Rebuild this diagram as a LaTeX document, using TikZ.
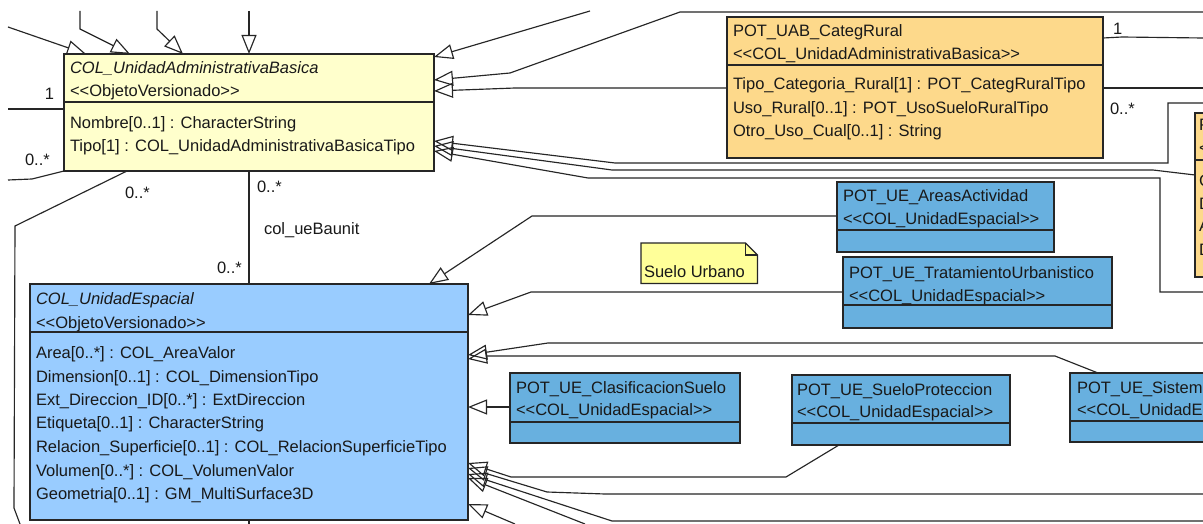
\documentclass[tikz,border=0pt]{standalone}
\usepackage{fontspec}
\newfontfamily\umlfont{Liberation Sans}
\usetikzlibrary{arrows.meta}
\definecolor{uabfill}{HTML}{FFFFCC}
\definecolor{potuabfill}{HTML}{FDD98B}
\definecolor{uefill}{HTML}{99CCFF}
\definecolor{potuefill}{HTML}{68B0DF}
\definecolor{notefill}{HTML}{FFFF99}
\definecolor{lnc}{HTML}{262626}
\begin{document}
\begin{tikzpicture}[x=1pt,y=-1pt,
  box/.style={draw=lnc, line width=1.6pt, anchor=north west, inner sep=0pt, outer sep=0pt},
  divline/.style={draw=lnc, line width=1.3pt},
  txt/.style={anchor=base west, inner sep=0pt, outer sep=0pt, text=black!90, font=\umlfont\fontsize{16.5}{20}\selectfont},
  conn/.style={draw=lnc, line width=1.15pt},
  gen/.style={conn, -{Triangle[open,length=19pt,width=15pt]}},
]
\useasboundingbox (0,0) rectangle (1203,524);
\clip (0,0) rectangle (1203,524);
\fill[white] (0,0) rectangle (1203,524);

% ---------- boxes ----------
\node[box, fill=uabfill, minimum width=370pt, minimum height=117pt] (uab) at (64,54) {};
\draw[divline] ([yshift=-48pt]uab.north west) -- ([yshift=-48pt]uab.north east);
\node[txt] (uabT1) at (70,74) {\itshape COL\_UnidadAdministrativaBasica};
\node[txt] (uabT2) at (70,97) {<<ObjetoVersionado>>};
\node[txt] (uabA1) at (70,129) {Nombre[0..1] : CharacterString};
\node[txt] (uabA2) at (70,152) {Tipo[1] : COL\_UnidadAdministrativaBasicaTipo};

\node[box, fill=potuabfill, minimum width=376pt, minimum height=141pt] (puab) at (727,17) {};
\draw[divline] ([yshift=-48pt]puab.north west) -- ([yshift=-48pt]puab.north east);
\node[txt] (puabT1) at (733,37) {POT\_UAB\_CategRural};
\node[txt] (puabT2) at (733,60) {<<COL\_UnidadAdministrativaBasica>>};
\node[txt] (puabA1) at (733,90) {Tipo\_Categoria\_Rural[1] : POT\_CategRuralTipo};
\node[txt] (puabA2) at (733,114) {Uso\_Rural[0..1] : POT\_UsoSueloRuralTipo};
\node[txt] (puabA3) at (733,137) {Otro\_Uso\_Cual[0..1] : String};

\node[box, fill=potuabfill, minimum width=100pt, minimum height=164pt] (rb) at (1195,113) {};
\draw[divline] ([yshift=-47pt]rb.north west) -- ([yshift=-47pt]rb.north east);
\node[txt] (rbT1) at (1199,131) {P};
\node[txt] (rbT2) at (1199,154) {<<};
\node[txt] (rbA1) at (1199,186) {C};
\node[txt] (rbA2) at (1199,209) {D};
\node[txt] (rbA3) at (1199,232) {A};
\node[txt] (rbA4) at (1199,255) {D};

\node[box, fill=uefill, minimum width=438pt, minimum height=236pt] (ue) at (30,284) {};
\draw[divline] ([yshift=-48pt]ue.north west) -- ([yshift=-48pt]ue.north east);
\node[txt] (ueT1) at (36,304) {\itshape COL\_UnidadEspacial};
\node[txt] (ueT2) at (36,328) {<<ObjetoVersionado>>};
\node[txt] (ueA1) at (36,358) {Area[0..*] : COL\_AreaValor};
\node[txt] (ueA2) at (36,382) {Dimension[0..1] : COL\_DimensionTipo};
\node[txt] (ueA3) at (36,405) {Ext\_Direccion\_ID[0..*] : ExtDireccion};
\node[txt] (ueA4) at (36,428) {Etiqueta[0..1] : CharacterString};
\node[txt] (ueA5) at (36,452) {Relacion\_Superficie[0..1] : COL\_RelacionSuperficieTipo};
\node[txt] (ueA6) at (36,476) {Volumen[0..*] : COL\_VolumenValor};
\node[txt] (ueA7) at (36,499) {Geometria[0..1] : GM\_MultiSurface3D};

\node[box, fill=potuefill, minimum width=217pt, minimum height=70pt] (aa) at (837,182) {};
\draw[divline] ([yshift=-48pt]aa.north west) -- ([yshift=-48pt]aa.north east);
\node[txt] (aaT1) at (843,202) {POT\_UE\_AreasActividad};
\node[txt] (aaT2) at (843,224) {<<COL\_UnidadEspacial>>};

\node[box, fill=potuefill, minimum width=269pt, minimum height=71pt] (tu) at (843,257) {};
\draw[divline] ([yshift=-48pt]tu.north west) -- ([yshift=-48pt]tu.north east);
\node[txt] (tuT1) at (849,278) {POT\_UE\_TratamientoUrbanistico};
\node[txt] (tuT2) at (849,301) {<<COL\_UnidadEspacial>>};

\node[box, fill=potuefill, minimum width=230pt, minimum height=70pt] (cs) at (510,373) {};
\draw[divline] ([yshift=-49pt]cs.north west) -- ([yshift=-49pt]cs.north east);
\node[txt] (csT1) at (516,393) {POT\_UE\_ClasificacionSuelo};
\node[txt] (csT2) at (516,415) {<<COL\_UnidadEspacial>>};

\node[box, fill=potuefill, minimum width=218pt, minimum height=70pt] (sp) at (792,375) {};
\draw[divline] ([yshift=-48pt]sp.north west) -- ([yshift=-48pt]sp.north east);
\node[txt] (spT1) at (797,395) {POT\_UE\_SueloProteccion};
\node[txt] (spT2) at (797,417) {<<COL\_UnidadEspacial>>};

\node[box, fill=potuefill, minimum width=200pt, minimum height=69pt] (sis) at (1070,373) {};
\draw[divline] ([yshift=-48pt]sis.north west) -- ([yshift=-48pt]sis.north east);
\node[txt] (sisT1) at (1077,393) {POT\_UE\_Sistema};
\node[txt] (sisT2) at (1077,415) {<<COL\_UnidadEspacial>>};

% note
\node[draw=none, anchor=north west, inner sep=0pt, minimum width=116pt, minimum height=40pt] (note) at (641,243) {};
\draw[fill=notefill, draw=lnc, line width=1.2pt] (note.north west) -- ([xshift=-12pt]note.north east) -- ([yshift=-12pt]note.north east) -- (note.south east) -- (note.south west) -- cycle;
\draw[draw=lnc, line width=1.2pt] ([xshift=-12pt]note.north east) -- ([xshift=-12pt,yshift=-12pt]note.north east) -- ([yshift=-12pt]note.north east);
\node[txt] (noteT) at (644,277) {Suelo Urbano};

% ---------- free ends ----------
\coordinate (e1) at (8,27);
\coordinate (e2) at (80,11);
\coordinate (e3) at (157,11);
\coordinate (e4) at (249,11);
\coordinate (e5) at (590,11);
\coordinate (e6) at (1203,12);
\coordinate (e8) at (1203,88);
\coordinate (e9) at (1203,38);
\coordinate (e10) at (1203,103);
\coordinate (e12) at (1203,292);
\coordinate (e13) at (8,109);
\coordinate (e14) at (8,180);
\coordinate (e15) at (20,524);
\coordinate (e16) at (249,524);
\coordinate (e19) at (1203,343);
\coordinate (e23) at (1203,494);
\coordinate (e24) at (1203,521);
\coordinate (e25) at (515,524);
\coordinate (e26) at (585,524);

% ---------- generalizations into UAB ----------
\draw[gen] (e1) -- ([xshift=22pt]uab.north west);
\draw[gen] (e2) -- (80,29) -- ([xshift=66pt]uab.north west);
\draw[gen] (e3) -- (157,29) -- ([xshift=119pt]uab.north west);
\draw[gen] (e4) -- ([xshift=185pt]uab.north west);
\draw[gen] (e5) -- ([yshift=-3pt]uab.north east);
\draw[gen] (e6) -- (680,12) -- (510,73) -- ([yshift=-26pt]uab.north east);
\draw[gen] ([yshift=-71pt]puab.north west) -- (515,88) -- ([yshift=-37pt]uab.north east);
\draw[gen] (e10) -- (1168,103) -- (1168,163) -- (615,163) -- ([yshift=-87pt]uab.north east);
\draw[gen] ([yshift=-62pt]rb.north west) -- (1153,170) -- (612,170) -- ([yshift=-92pt]uab.north east);
\draw[gen] (e12) -- (1160,292) -- (1160,178) -- (588,178) -- ([yshift=-97pt]uab.north east);

% ---------- associations ----------
\draw[conn] (e8) -- ([yshift=-71pt]puab.north east);
\draw[conn] (e9) -- (1122,37) -- ([yshift=-21pt]puab.north east);
\draw[conn] (e13) -- ([yshift=-55pt]uab.north west);
\draw[conn] (e14) -- (32,179) -- (uab.south west);
\draw[conn] ([xshift=63pt]uab.south west) -- (15,226) -- (14,508) -- (e15);
\draw[conn] ([xshift=185pt]uab.south west) -- ([xshift=219pt]ue.north west);
\draw[conn] ([xshift=219pt]ue.south west) -- (e16);

\node[txt] (m1) at (45,100) {1};
\node[txt] (m2) at (25,166) {0..*};
\node[txt] (m3) at (125,198) {0..*};
\node[txt] (m4) at (257,193) {0..*};
\node[txt] (lab) at (264,234) {col\_ueBaunit};
\node[txt] (m5) at (217,273) {0..*};
\node[txt] (m6) at (1113,35) {1};
\node[txt] (m7) at (1110,115) {0..*};

% ---------- generalizations into UE ----------
\draw[gen] ([yshift=-34pt]aa.north west) -- (532,216) -- ([xshift=399pt]ue.north west);
\draw[gen] ([yshift=-35pt]tu.north west) -- (531,292) -- ([yshift=-31pt]ue.north east);
\draw[gen] (e19) -- (548,343) -- ([yshift=-71pt]ue.north east);
\draw[gen] ([xshift=28pt]sis.north west) -- (1055,356) -- (488,356) -- ([yshift=-75pt]ue.north east);
\draw[gen] ([yshift=-34pt]cs.north west) -- ([yshift=-123pt]ue.north east);
\draw[gen] ([xshift=47pt]sp.south west) -- (786,477) -- (511,477) -- ([yshift=-179pt]ue.north east);
\draw[gen] (e23) -- (605,494) -- (547,492) -- ([yshift=-184pt]ue.north east);
\draw[gen] (e24) -- (612,521) -- ([yshift=-190pt]ue.north east);
\draw[gen] (e26) -- ([yshift=-194pt]ue.north east);
\draw[gen] (e25) -- ([yshift=-220pt]ue.north east);
\end{tikzpicture}
\end{document}
